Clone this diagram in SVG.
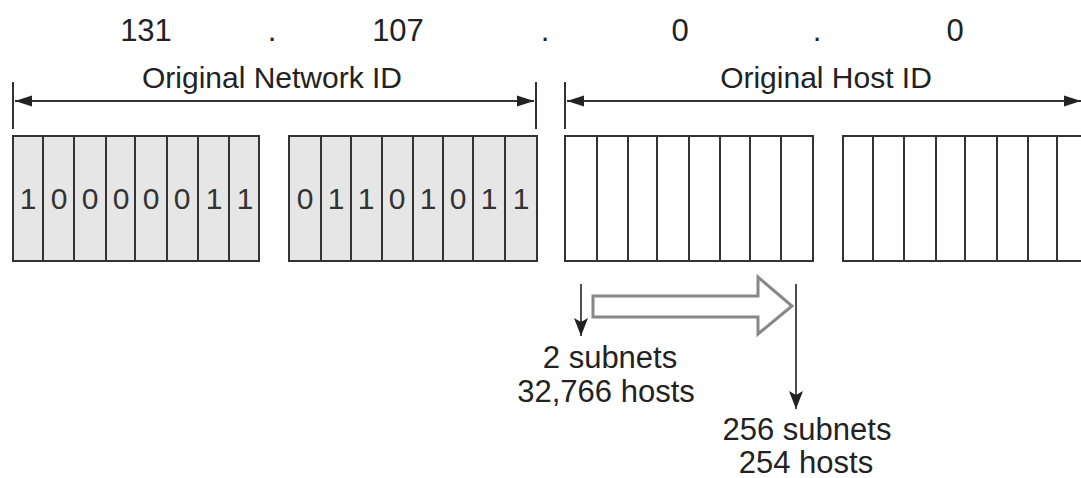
<svg xmlns="http://www.w3.org/2000/svg" width="1081" height="478" viewBox="0 0 1081 478">
<style>
.t{font-family:"Liberation Sans",Arial,sans-serif;fill:#222;text-anchor:middle}
.top{font-size:31px}
.lbl{font-size:30px}
.sub{font-size:31px}
.bit{font-size:30px;fill:#333}
.net{fill:#e6e6e6;stroke:#333;stroke-width:2}
.host{fill:#fff;stroke:#333;stroke-width:2}
.div{stroke:#333;stroke-width:2}
.dim{stroke:#333;stroke-width:2;fill:none}
.dn{stroke:#222;stroke-width:1.6;fill:none}
</style>
<defs>
<marker id="ah" markerUnits="userSpaceOnUse" markerWidth="18" markerHeight="14" viewBox="0 0 18 14" refX="17" refY="7" orient="auto-start-reverse">
<path d="M0,1.5 L17,7 L0,12.5 Z" fill="#222"/>
</marker>
<marker id="dh" markerUnits="userSpaceOnUse" markerWidth="18" markerHeight="16" viewBox="0 0 18 16" refX="18" refY="8" orient="auto">
<path d="M0,1 L18,8 L0,15 L4,8 Z" fill="#222"/>
</marker>
</defs>
<g id="octets">
<text class="t top" x="146" y="41">131</text>
<text class="t top" x="272" y="41">.</text>
<text class="t top" x="398" y="41">107</text>
<text class="t top" x="545" y="41">.</text>
<text class="t top" x="680" y="41">0</text>
<text class="t top" x="817" y="41">.</text>
<text class="t top" x="955" y="41">0</text>
</g>
<g id="network-id-dim">
<line class="dim" x1="13" y1="82" x2="13" y2="129"/>
<line class="dim" x1="536" y1="82" x2="536" y2="129"/>
<line class="dim" x1="15" y1="101" x2="534" y2="101" marker-start="url(#ah)" marker-end="url(#ah)"/>
<text class="t lbl" x="272" y="88">Original Network ID</text>
</g>
<g id="host-id-dim">
<line class="dim" x1="565" y1="82" x2="565" y2="129"/>
<line class="dim" x1="567" y1="101" x2="1081" y2="101" marker-start="url(#ah)" marker-end="url(#ah)"/>
<text class="t lbl" x="826" y="88">Original Host ID</text>
</g>
<g id="octet1">
<rect class="net" x="13" y="136" width="246" height="125"/>
<path class="div" d="M43,136V261M74,136V261M106,136V261M135,136V261M167,136V261M198,136V261M229,136V261"/>
<text class="t bit" x="28" y="209">1</text>
<text class="t bit" x="59" y="209">0</text>
<text class="t bit" x="90" y="209">0</text>
<text class="t bit" x="121" y="209">0</text>
<text class="t bit" x="151" y="209">0</text>
<text class="t bit" x="182" y="209">0</text>
<text class="t bit" x="214" y="209">1</text>
<text class="t bit" x="245" y="209">1</text>
</g>
<g id="octet2">
<rect class="net" x="289" y="136" width="248" height="125"/>
<path class="div" d="M321,136V261M351,136V261M382,136V261M413,136V261M443,136V261M473,136V261M505,136V261"/>
<text class="t bit" x="305" y="209">0</text>
<text class="t bit" x="336" y="209">1</text>
<text class="t bit" x="366" y="209">1</text>
<text class="t bit" x="397" y="209">0</text>
<text class="t bit" x="428" y="209">1</text>
<text class="t bit" x="458" y="209">0</text>
<text class="t bit" x="489" y="209">1</text>
<text class="t bit" x="521" y="209">1</text>
</g>
<g id="octet3">
<rect class="host" x="565" y="136" width="248" height="125"/>
<path class="div" d="M597,136V261M628,136V261M657,136V261M689,136V261M720,136V261M750,136V261M781,136V261"/>
</g>
<g id="octet4">
<rect class="host" x="843" y="136" width="246" height="125"/>
<path class="div" d="M873,136V261M904,136V261M936,136V261M965,136V261M997,136V261M1028,136V261M1057,136V261"/>
</g>
<g id="connectors">
<line class="dn" x1="581" y1="284" x2="581" y2="336" marker-end="url(#dh)"/>
<line class="dn" x1="796" y1="284" x2="796" y2="409" marker-end="url(#dh)"/>
<path d="M593,296 L758,296 L758,277 L792,306 L758,334 L758,317 L593,317 Z" fill="#fff" stroke="#888" stroke-width="3" stroke-linejoin="miter"/>
</g>
<g id="label-2subnets">
<text class="t sub" x="610" y="368">2 subnets</text>
<text class="t sub" x="606" y="402">32,766 hosts</text>
</g>
<g id="label-256subnets">
<text class="t sub" x="807" y="440">256 subnets</text>
<text class="t sub" x="806" y="473">254 hosts</text>
</g>
</svg>
